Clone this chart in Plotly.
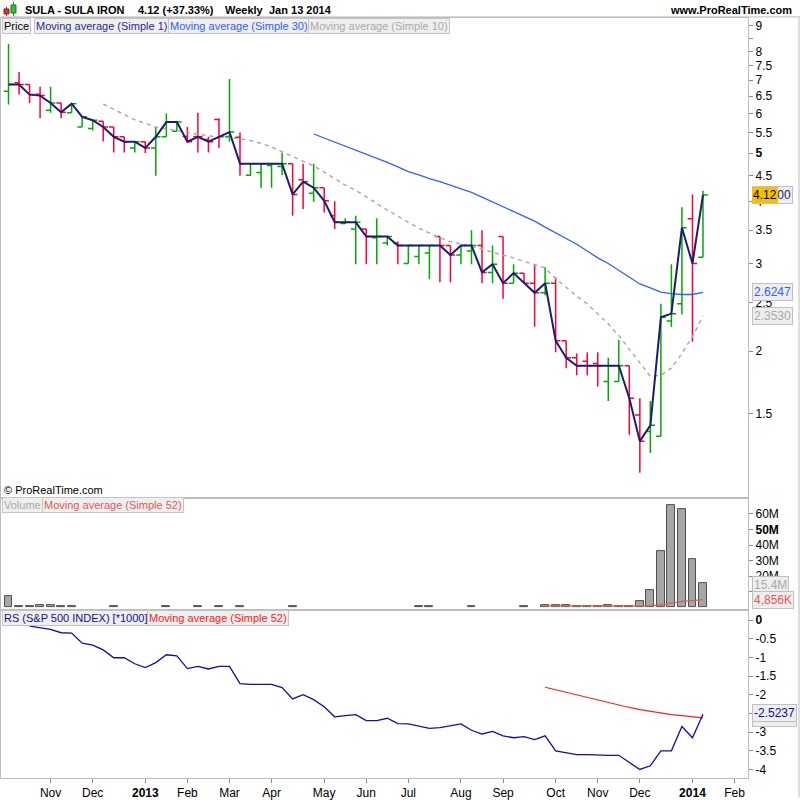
import pandas as pd
import plotly.graph_objects as go
from plotly.subplots import make_subplots

# ----- data (weekly bars, Oct 8 2012 .. Jan 13 2014) -----
weeks = pd.date_range("2012-10-08", periods=67, freq="7D")

price_open = [6.65, 6.92, 6.86, 6.56, 6.09, 6.30, 6.02, 5.64, 5.60, 5.79,
              5.64, 5.39, 5.12, 5.27, 5.12, 5.39, 5.53, 5.40, 5.40, 5.32,
              5.84, 5.40, 5.38, 4.51, 4.57, 4.72, 4.70, 4.76, 4.42, 4.15,
              4.26, 3.74, 3.61, 3.52, 3.52, 3.38, 3.30, 3.30, 3.00, 3.10,
              3.15, 3.40, 3.26, 3.12, 3.18, 3.26, 2.88, 3.40, 2.74, 2.87,
              2.74, 2.62, 2.74, 2.10, 1.94, 1.91, 1.89, 1.74, 1.74, 1.87,
              1.49, 1.38, 1.35, 2.30, 2.49, 3.69, 3.09]
price_high = [8.28, 7.27, 6.86, 6.79, 6.79, 6.30, 6.28, 5.91, 5.84, 5.79,
              5.64, 5.39, 5.27, 5.27, 5.64, 6.00, 5.77, 5.64, 6.02, 5.39,
              5.87, 7.04, 5.50, 4.76, 4.76, 4.77, 5.01, 4.76, 4.76, 4.76,
              4.26, 4.00, 3.70, 3.74, 3.52, 3.70, 3.40, 3.32, 3.26, 3.26,
              3.26, 3.40, 3.26, 3.26, 3.50, 3.50, 3.26, 3.40, 2.99, 2.87,
              2.99, 2.95, 2.82, 2.10, 1.98, 1.99, 1.99, 1.94, 2.11, 1.87,
              1.61, 1.59, 2.49, 2.99, 3.89, 4.13, 4.20]
price_low = [6.26, 6.55, 6.30, 5.87, 6.02, 5.87, 6.02, 5.64, 5.55, 5.28,
             5.01, 5.01, 5.01, 5.00, 4.50, 5.39, 5.53, 5.27, 5.01, 5.01,
             5.12, 5.27, 4.50, 4.50, 4.26, 4.26, 4.51, 3.74, 3.86, 3.99,
             3.80, 3.52, 3.60, 2.99, 2.99, 2.99, 3.26, 2.99, 3.00, 2.99,
             2.79, 2.75, 2.75, 2.99, 2.99, 2.74, 2.74, 2.55, 2.74, 2.74,
             2.24, 2.59, 1.99, 1.85, 1.79, 1.79, 1.70, 1.59, 1.74, 1.36,
             1.14, 1.25, 1.35, 2.24, 2.37, 2.09, 3.09]
price_close = [6.86, 6.86, 6.55, 6.52, 6.30, 6.04, 6.28, 5.91, 5.82, 5.64,
               5.39, 5.27, 5.27, 5.12, 5.39, 5.77, 5.77, 5.27, 5.39, 5.27,
               5.39, 5.51, 4.76, 4.76, 4.76, 4.76, 4.76, 4.13, 4.38, 4.26,
               4.01, 3.63, 3.63, 3.63, 3.40, 3.40, 3.40, 3.26, 3.26, 3.26,
               3.26, 3.26, 3.12, 3.26, 3.26, 2.88, 2.99, 2.74, 2.87, 2.74,
               2.62, 2.74, 2.10, 1.94, 1.87, 1.87, 1.87, 1.87, 1.87, 1.61,
               1.32, 1.42, 2.34, 2.38, 3.54, 3.00, 4.12]

ma30 = [None] * 29 + [
    5.46, 5.36, 5.26, 5.16, 5.07, 4.98, 4.89, 4.79, 4.69, 4.59,
    4.52, 4.44, 4.38, 4.31, 4.25, 4.17, 4.08, 3.99, 3.90, 3.82,
    3.74, 3.65, 3.55, 3.46, 3.37, 3.28, 3.18, 3.08, 3.00, 2.91,
    2.82, 2.73, 2.68, 2.63, 2.61, 2.60, 2.60, 2.6247]
ma10 = [None] * 9 + [
    6.27, 6.12, 5.98, 5.83, 5.74, 5.64, 5.59, 5.54, 5.49, 5.44,
    5.41, 5.39, 5.37, 5.34, 5.30, 5.23, 5.14, 5.03, 4.93, 4.83,
    4.71, 4.58, 4.44, 4.31, 4.21, 4.09, 3.96, 3.84, 3.74, 3.63,
    3.53, 3.45, 3.38, 3.32, 3.28, 3.25, 3.21, 3.16, 3.12, 3.08,
    3.03, 2.99, 2.94, 2.80, 2.69, 2.58, 2.49, 2.38, 2.27, 2.15,
    2.02, 1.90, 1.78, 1.79, 1.85, 1.98, 2.14, 2.353]

# volume in millions (None = no visible bar)
volume = [7.0, 1.0, 0.8, 1.6, 1.6, 0.8, 0.8, None, None, None,
          0.8, None, None, None, None, 0.8, None, None, 1.0, None,
          0.8, None, 0.8, None, None, None, None, 1.0, None, None,
          None, None, None, None, None, None, None, None, None, 0.8,
          0.8, None, None, None, 0.8, None, None, None, None, 0.8,
          None, 1.5, 1.5, 1.2, 0.8, 0.8, 1.0, 1.2, 0.5, 1.0,
          4.0, 11.0, 36.0, 65.5, 63.0, 31.0, 15.4]
vol_ma52 = [None] * 51 + [
    0.8, 0.8, 0.8, 0.8, 0.8, 0.8, 0.8, 0.8, 0.8, 0.85,
    0.9, 1.5, 2.6, 3.7, 4.3, 4.856]

rs = [None, None, -0.16, -0.21, -0.25, -0.34, -0.35, -0.62, -0.67, -0.80,
      -1.01, -1.01, -1.17, -1.27, -1.14, -0.93, -0.96, -1.30, -1.24, -1.31,
      -1.24, -1.24, -1.70, -1.72, -1.73, -1.72, -1.81, -2.11, -2.00, -2.13,
      -2.32, -2.59, -2.56, -2.53, -2.69, -2.69, -2.63, -2.77, -2.78, -2.85,
      -2.90, -2.88, -2.82, -2.78, -2.95, -3.05, -2.98, -3.10, -3.15, -3.12,
      -3.20, -3.10, -3.50, -3.55, -3.60, -3.60, -3.62, -3.62, -3.62, -3.80,
      -4.00, -3.90, -3.50, -3.50, -2.85, -3.15, -2.5237]
rs_ma52 = [None] * 51 + [
    -1.80, -1.87, -1.94, -2.01, -2.08, -2.15, -2.21, -2.28, -2.34, -2.40,
    -2.45, -2.50, -2.53, -2.56, -2.59, -2.62]

tick_dates = ["2012-11-05", "2012-12-03", "2013-01-07", "2013-02-04", "2013-03-04",
              "2013-04-01", "2013-05-06", "2013-06-03", "2013-07-01", "2013-08-05",
              "2013-09-02", "2013-10-07", "2013-11-04", "2013-12-02", "2014-01-06",
              "2014-02-03"]
tick_labels = ["Nov", "Dec", "<b>2013</b>", "Feb", "Mar", "Apr", "May", "Jun", "Jul",
               "Aug", "Sep", "Oct", "Nov", "Dec", "<b>2014</b>", "Feb"]

price_ticks = [1.5, 2, 2.5, 3, 3.5, 4, 4.5, 5, 5.5, 6, 6.5, 7, 7.5, 8, 8.5, 9]
price_tick_text = ["1.5", "2", "2.5", "3", "3.5", "4", "4.5", "<b>5</b>", "5.5", "6",
                   "6.5", "7", "7.5", "8", "", "9"]
vol_ticks = [10, 20, 30, 40, 50, 60]
vol_tick_text = ["10M", "20M", "30M", "40M", "<b>50M</b>", "60M"]
rs_ticks = [0, -0.5, -1, -1.5, -2, -2.5, -3, -3.5, -4]
rs_tick_text = ["<b>0</b>", "-0.5", "-1", "-1.5", "-2", "-2.5", "-3", "-3.5", "-4"]

GREEN = "#00a800"
RED = "#ff0033"
NAVY = "#1c1c72"
BLUE = "#3060ff"
GREY = "#aaaaaa"
FONT = "Liberation Sans"


def px(x):
    return x / 800


def py(y):
    return 1 - y / 800


# ----- figure -----
fig = make_subplots(rows=3, cols=1, shared_xaxes=True, vertical_spacing=0.0)

fig.add_trace(
    go.Ohlc(
        x=weeks, open=price_open, high=price_high, low=price_low, close=price_close,
        increasing=dict(line=dict(color=GREEN, width=1.5)),
        decreasing=dict(line=dict(color=RED, width=1.5)),
        tickwidth=0.45, hoverinfo="skip"
    ),
    row=1, col=1
)
fig.add_trace(go.Scatter(x=weeks, y=ma10, mode="lines",
                         line=dict(color=GREY, width=1.5, dash="4px,4px")), row=1, col=1)
fig.add_trace(go.Scatter(x=weeks, y=ma30, mode="lines",
                         line=dict(color=BLUE, width=1.3)), row=1, col=1)
fig.add_trace(go.Scatter(x=weeks, y=price_close, mode="lines",
                         line=dict(color=NAVY, width=2)), row=1, col=1)

fig.add_trace(go.Bar(x=weeks, y=volume, width=0.75 * 7 * 24 * 3600 * 1000,
                     marker=dict(color="#a6a6a6", line=dict(color="#505050", width=1))),
              row=2, col=1)
fig.add_trace(go.Scatter(x=weeks, y=vol_ma52, mode="lines",
                         line=dict(color="#e05a5a", width=1.2)), row=2, col=1)

fig.add_trace(go.Scatter(x=weeks, y=rs_ma52, mode="lines",
                         line=dict(color="#ff2020", width=1.2)), row=3, col=1)
fig.add_trace(go.Scatter(x=weeks, y=rs, mode="lines",
                         line=dict(color="#1010a0", width=1.3)), row=3, col=1)

frame = dict(showline=True, mirror=True, linecolor="#bdbdbd", linewidth=1,
             showgrid=False, zeroline=False)
ytick = dict(side="right", ticks="outside", ticklen=4, tickcolor="#888888",
             tickfont=dict(family=FONT, size=12, color="black"))

x_range = ["2012-10-03", "2014-02-12"]
for i in (1, 2, 3):
    fig.update_xaxes(range=x_range, domain=[0, px(748)], rangeslider_visible=False,
                     tickvals=tick_dates, ticktext=tick_labels, **frame, row=i, col=1)
fig.update_xaxes(showticklabels=False, ticks="", row=1, col=1)
fig.update_xaxes(showticklabels=False, ticks="", row=2, col=1)
fig.update_xaxes(ticks="outside", ticklen=4, tickcolor="#888888",
                 tickfont=dict(family="Liberation Sans Narrow, Liberation Sans", size=12,
                               color="black"), row=3, col=1)

fig.update_yaxes(type="log", range=[0.0082, 0.9702], tickvals=price_ticks,
                 ticktext=price_tick_text, domain=[py(499), py(18)], **ytick, **frame,
                 row=1, col=1)
fig.update_yaxes(range=[-0.96, 69.55], tickvals=vol_ticks, ticktext=vol_tick_text,
                 domain=[py(611), py(501)], **ytick, **frame, row=2, col=1)
fig.update_yaxes(range=[-4.23, 0.25], tickvals=rs_ticks, ticktext=rs_tick_text,
                 domain=[py(781), py(613)], **ytick, **frame, row=3, col=1)

annotations = []


def label(text, x, y, color="black", size=11, bg=None, border=None, anchor="left", bold=False):
    if bold:
        text = "<b>" + text + "</b>"
    annotations.append(dict(
        text=text, x=px(x), y=py(y), xref="paper", yref="paper",
        xanchor=anchor, yanchor="middle", showarrow=False,
        font=dict(family=FONT, size=size, color=color),
        bgcolor=bg, bordercolor=border, borderwidth=1 if border else 0, borderpad=1
    ))


# header
label("SULA - SULA IRON", 23, 10, bold=True)
label("4.12 (+37.33%)", 136, 10, bold=True)
label("Weekly", 223, 10, bold=True)
label("Jan 13 2014", 267, 10, bold=True)
label("www.ProRealTime.com", 793, 10, bold=True, anchor="right")

# panel legends
box_bg, box_line = "#efefef", "#c4c4c4"
label("Price", 1, 26, bg=box_bg, border=box_line)
label("Moving average (Simple 1)", 33, 26, color="#2a2a90", bg=box_bg, border=box_line)
label("Moving average (Simple 30)", 167, 26, color=BLUE, bg=box_bg, border=box_line)
label("Moving average (Simple 10)", 307, 26, color=GREY, bg=box_bg, border=box_line)
label("Volume", 1, 507, color=GREY, bg=box_bg, border=box_line)
label("Moving average (Simple 52)", 41, 507, color="#e05a5a", bg=box_bg, border=box_line)
label("RS (S&amp;P 500 INDEX) [*1000]", 1, 620, color="#101090", bg=box_bg, border=box_line)
label("Moving average (Simple 52)", 146, 620, color="#ff2020", bg=box_bg, border=box_line)
label("© ProRealTime.com", 2, 492)

# last-value boxes on the right scales
label("4.1200", 752, 196, color=NAVY, size=12, bg="#eeeeee", border="#c0c0c0")
label("4.12", 752, 196, size=12, bg="#f2c200")
label("2.6247", 752, 293, color=BLUE, size=12, bg="#eeeeee", border="#c0c0c0")
label("2.3530", 752, 317, color=GREY, size=12, bg="#eeeeee", border="#c0c0c0")
label("15.4M", 752, 587, color=GREY, size=12, bg="#eeeeee", border="#c0c0c0")
label("4,856K", 752, 602, color="#e05a5a", size=12, bg="#eeeeee", border="#c0c0c0")
label("-2.6161", 752, 721, color="#ff2020", size=12, bg="#eeeeee", border="#c0c0c0")
label("-2.5237", 752, 716, color="#1010a0", size=12, bg="#eeeeee", border="#c0c0c0")

shapes = [
    dict(type="line", xref="paper", yref="paper", x0=0, x1=1, y0=py(17), y1=py(17),
         line=dict(color="#bdbdbd", width=1)),
    dict(type="line", xref="paper", yref="paper", x0=px(799), x1=px(799), y0=0, y1=py(17),
         line=dict(color="#bdbdbd", width=1)),
    # little chart icon in the header
    dict(type="line", xref="paper", yref="paper", x0=px(5.5), x1=px(5.5), y0=py(16), y1=py(7),
         line=dict(color="#a02020", width=1)),
    dict(type="rect", xref="paper", yref="paper", x0=px(3), x1=px(8), y0=py(14), y1=py(9),
         fillcolor="#e03030", line=dict(color="#802020", width=1)),
    dict(type="line", xref="paper", yref="paper", x0=px(12.5), x1=px(12.5), y0=py(16), y1=py(2),
         line=dict(color="#208020", width=1)),
    dict(type="rect", xref="paper", yref="paper", x0=px(10), x1=px(15), y0=py(13), y1=py(5),
         fillcolor="#30c030", line=dict(color="#207020", width=1)),
]

fig.update_layout(
    width=800, height=800,
    margin=dict(l=0, r=0, t=0, b=0),
    paper_bgcolor="white", plot_bgcolor="white",
    showlegend=False, bargap=0,
    font=dict(family=FONT, size=12, color="black"),
    annotations=annotations, shapes=shapes
)

# the page's default body margin would shift the figure by 8px
fig.write_html("out.html", config={"displayModeBar": False},
               post_script="document.body.style.margin='0';")
